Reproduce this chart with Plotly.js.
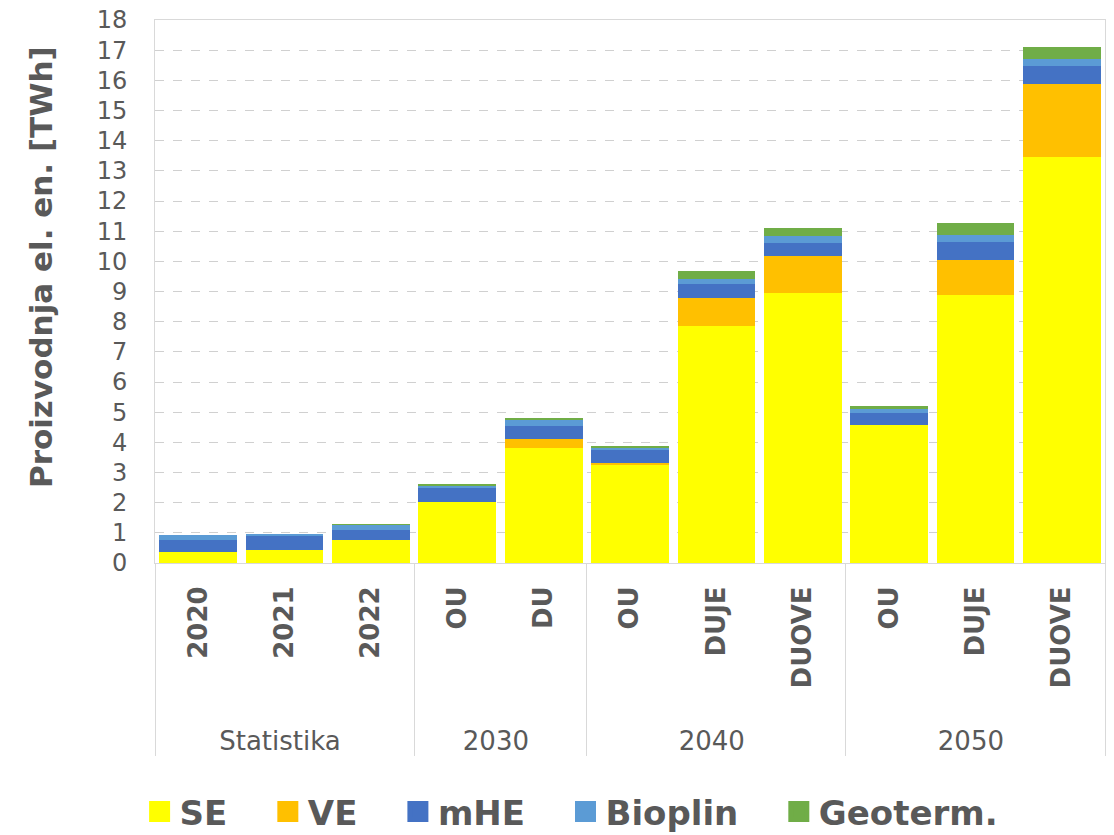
<!DOCTYPE html>
<html><head><meta charset="utf-8">
<script src="https://cdn.plot.ly/plotly-3.0.1.min.js"></script>
<style>body{margin:0;background:#fff}#chart{width:1114px;height:835px}</style>
</head><body><div id="chart"></div>
<script>
const groups = ["Statistika","Statistika","Statistika","2030","2030","2040","2040","2040","2050","2050","2050"];
const subs   = ["2020","2021","2022","OU","DU","OU","DUJE","DUOVE","OU","DUJE","DUOVE"];
const SE      = [0.35,0.44,0.76,2.03,3.80,3.26,7.87,8.95,4.56,8.89,13.46];
const VE      = [0,0,0,0,0.32,0.06,0.93,1.24,0,1.16,2.41];
const mHE     = [0.41,0.47,0.34,0.45,0.43,0.42,0.44,0.42,0.42,0.58,0.59];
const Bioplin = [0.17,0.04,0.16,0.07,0.18,0.07,0.18,0.23,0.14,0.24,0.24];
const Geoterm = [0,0,0.02,0.06,0.07,0.07,0.27,0.25,0.08,0.40,0.42];
const seriesNames = ["SE","VE","mHE","Bioplin","Geoterm."];
const seriesColors = ["#ffff00","#ffc000","#4472c4","#5b9bd5","#70ad47"];
const seriesData = [SE,VE,mHE,Bioplin,Geoterm];
const yTicks = [0,1,2,3,4,5,6,7,8,9,10,11,12,13,14,15,16,17,18];
const yTitle = "Proizvodnja el. en. [TWh]";

const pad = '\u00a0\u00a0\u00a0';
const xcats = [groups, subs.map(s=>pad+'<b>'+s+'</b>')];
const traces = seriesData.map((d,i)=>({
  type:'bar', name:seriesNames[i], x:xcats, y:d, showlegend:false,
  marker:{color:seriesColors[i]}, hoverinfo:'skip'
}));
// legend entries (legend only, no points)
seriesNames.forEach((n,i)=>traces.push({
  type:'scatter', mode:'markers', name:n+(i<seriesNames.length-1?'\u00a0\u00a0\u00a0':''), x:[null], y:[null], showlegend:true,
  marker:{symbol:'square', size:16, color:seriesColors[i], line:{width:5, color:seriesColors[i]}}
}));

const layout = {
  width:1114, height:835,
  barmode:'stack', bargap:0.1,
  paper_bgcolor:'#fff', plot_bgcolor:'#fff',
  margin:{l:155, r:9, t:20, b:272, autoexpand:false},
  font:{family:'"DejaVu Sans", sans-serif', color:'#595959'},
  showlegend:true,
  legend:{orientation:'h', x:0.438, xanchor:'center', y:-0.405, yanchor:'top',
          font:{size:34, color:'#595959', weight:'bold'}, itemwidth:30, traceorder:'normal'},
  xaxis:{type:'multicategory', tickangle:-90, tickfont:{size:26, color:'#595959', family:'"DejaVu Sans", sans-serif'},
         ticklabelstandoff:12,
         showline:true, linecolor:'#d9d9d9', mirror:true, showdividers:true, dividercolor:'#d9d9d9', dividerwidth:1,
         ticks:'', showgrid:false},
  yaxis:{range:[0,18], tickvals:yTicks, ticktext:yTicks.map(String), tickfont:{size:24, color:'#595959'},
         ticklabelstandoff:22,
         showgrid:true, gridcolor:'#d0d0d0', griddash:'dash', gridwidth:1,
         showline:true, linecolor:'#d9d9d9', mirror:true, zeroline:false, ticks:''},
  annotations:[{text:'<b>'+yTitle+'</b>', xref:'paper', yref:'paper', x:-0.12, y:0.545,
                xanchor:'center', yanchor:'middle', textangle:-90, showarrow:false,
                font:{size:31, color:'#595959'}}]
};
Plotly.newPlot('chart', traces, layout, {staticPlot:true});
</script></body></html>
